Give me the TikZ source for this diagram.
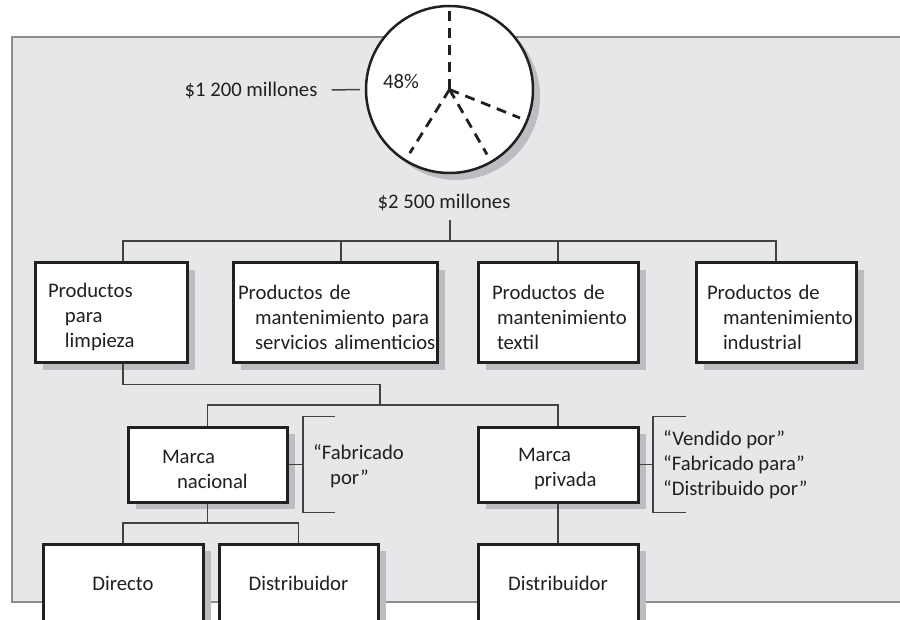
\documentclass[tikz,border=0pt]{standalone}
\usepackage{fontspec}
\setmainfont{Carlito}
\usetikzlibrary{positioning, calc, shadows}
\definecolor{panel}{HTML}{E6E7E8}
\definecolor{panelrim}{HTML}{8C8C8E}
\definecolor{boxshadow}{HTML}{BCBDC0}
\definecolor{ink}{HTML}{231F20}
\hyphenpenalty=10000
\hbadness=10000
\hfuzz=20pt
\newcommand\boxlift{\rule{0pt}{23pt}}

\begin{document}
\begin{tikzpicture}[x=1pt, y=-1pt,
    font=\fontsize{20.7}{25}\selectfont, text=ink,
    box/.style={draw=ink, line width=3pt, fill=white, inner sep=0pt, align=left,
        general shadow={fill=boxshadow, shadow xshift=8pt, shadow yshift=-7pt}},
    conn/.style={draw=ink!85, line width=1.5pt},
    lbl/.style={inner sep=0pt}]
    \clip (0,0) rectangle (900,620);
    % fondo
    \draw[panelrim, fill=panel, line width=2.5pt] (12,37) rectangle (910,602);

    % mercado total
    \node[circle, draw=ink, line width=2.5pt, fill=white, minimum size=167pt, inner sep=0pt,
        general shadow={fill=boxshadow, shadow xshift=7pt, shadow yshift=-7pt}] (pie) at (449.5,89.5) {};
    \foreach \a/\r in {270/84, 22/76, 60/75, 122/75}
        \draw[ink, line width=2.8pt, dash pattern=on 10pt off 7pt] (pie.center) -- ($(pie.center)+(\a:\r)$);
    \node[lbl] (pct) at (401,82) {48\%};
    \node[lbl] (mil) at (251,90) {\$1 200 millones};
    \draw[conn] ([xshift=14pt]mil.east) -- ([xshift=-5pt]pie.west);
    \node[lbl] (total) at (444,202) {\$2 500 millones};
    \coordinate (tj) at (450,241);
    \draw[conn] (tj) -- ++(0,-21);

    % lineas de productos
    \node[box, minimum width=152pt, minimum height=100pt, text width=126pt] (limp) at (111,313)
        {\boxlift Productos\\\hspace*{17pt}para\\\hspace*{17pt}limpieza};
    \node[box, minimum width=204pt, minimum height=100pt, text width=194pt] (alim) at (335,313)
        {\boxlift Productos de\\\hspace*{17pt}mantenimiento para\\\hspace*{17pt}servicios~alimenticios};
    \node[box, minimum width=160pt, minimum height=100pt, text width=132pt] (textil) at (558,313)
        {\boxlift Productos de\\\hspace*{5pt}mantenimiento\\\hspace*{5pt}textil};
    \node[box, minimum width=160pt, minimum height=100pt, text width=138pt] (indu) at (776,313)
        {\boxlift Productos de\\\hspace*{16pt}mantenimiento\\\hspace*{16pt}industrial};
    \draw[conn] ([xshift=12pt]limp.north) |- (tj) -| (indu.north);
    \draw[conn] ($(alim.north)+(6,0)$) |- (tj);
    \draw[conn] (textil.north) |- (tj);

    % marcas
    \node[box, minimum width=159pt, minimum height=75pt, text width=91pt] (nac) at (207.5,464.5)
        {\boxlift Marca\\\hspace*{15pt}nacional};
    \node[box, minimum width=160pt, minimum height=75pt, text width=80pt] (priv) at (558,464.5)
        {\boxlift Marca\\\hspace*{16pt}privada};
    \coordinate (mj) at (380,405);
    \draw[conn] ([xshift=12pt]limp.south) -- ++(0,20) -| (mj);
    \draw[conn] (nac.north) |- (mj) -| (priv.north);

    % leyendas
    \coordinate (fbr) at (303,464.5);
    \draw[conn] (nac.east) -- (fbr);
    \draw[conn] ($(fbr)+(32,-48)$) -- ++(-32,0) -- ++(0,96) -- ++(32,0);
    \node[lbl, anchor=west, align=left] (fabtxt) at (313,466) {“Fabricado\\\hspace*{17pt}por”};
    \coordinate (vbr) at (653,464.5);
    \draw[conn] (priv.east) -- (vbr);
    \draw[conn] ($(vbr)+(33,-48)$) -- ++(-33,0) -- ++(0,96) -- ++(33,0);
    \node[lbl, anchor=west, align=left] (vtxt) at (663,465)
        {“Vendido por”\\“Fabricado para”\\“Distribuido por”};

    % canales
    \node[box, minimum width=160pt, minimum height=78pt] (dir) at (123,583) {Directo};
    \node[box, minimum width=159pt, minimum height=78pt] (dista) at (298.5,583) {Distribuidor};
    \node[box, minimum width=160pt, minimum height=78pt] (distb) at (558,583) {Distribuidor};
    \coordinate (nj) at (207.5,523);
    \draw[conn] (nac.south) -- (nj);
    \draw[conn] (dir.north) |- (nj) -| (dista.north);
    \draw[conn] (priv.south) -- (distb.north);
\end{tikzpicture}
\end{document}
